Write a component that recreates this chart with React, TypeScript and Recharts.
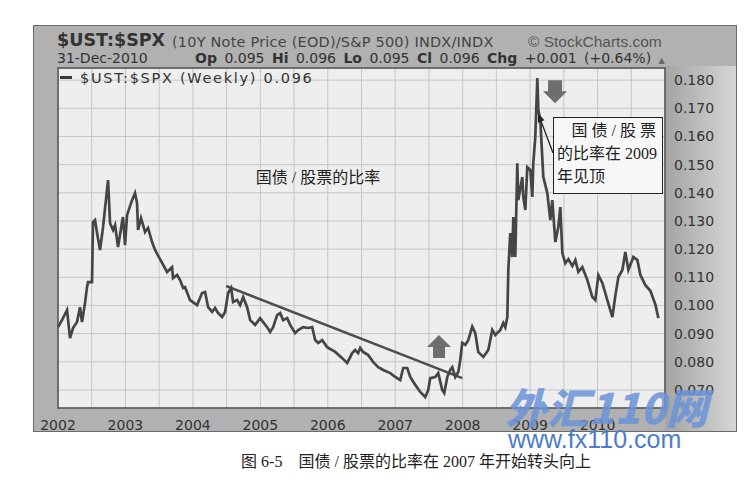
import React from 'react';
import { LineChart, Line, XAxis, YAxis, CartesianGrid, ReferenceLine, ReferenceDot, ReferenceArea } from 'recharts';

const years = [2002.000, 2002.059, 2002.134, 2002.178, 2002.223, 2002.282, 2002.326, 2002.356, 2002.401, 2002.430,
  2002.445, 2002.504, 2002.519, 2002.549, 2002.579, 2002.623, 2002.668, 2002.742, 2002.772, 2002.816,
  2002.846, 2002.890, 2002.950, 2002.964, 2002.994, 2003.024, 2003.098, 2003.142, 2003.172, 2003.187,
  2003.231, 2003.291, 2003.335, 2003.395, 2003.439, 2003.543, 2003.617, 2003.691, 2003.706, 2003.766,
  2003.810, 2003.855, 2003.884, 2003.958, 2004.062, 2004.136, 2004.181, 2004.226, 2004.285, 2004.329,
  2004.374, 2004.433, 2004.478, 2004.522, 2004.567, 2004.596, 2004.656, 2004.700, 2004.745, 2004.804,
  2004.849, 2004.923, 2004.997, 2005.042, 2005.101, 2005.145, 2005.190, 2005.249, 2005.294, 2005.338,
  2005.398, 2005.442, 2005.516, 2005.561, 2005.635, 2005.709, 2005.769, 2005.813, 2005.858, 2005.917,
  2005.991, 2006.110, 2006.214, 2006.288, 2006.362, 2006.407, 2006.451, 2006.481, 2006.525, 2006.599,
  2006.674, 2006.748, 2006.822, 2006.926, 2007.000, 2007.074, 2007.119, 2007.178, 2007.223, 2007.297,
  2007.371, 2007.445, 2007.490, 2007.519, 2007.593, 2007.638, 2007.697, 2007.727, 2007.772, 2007.816,
  2007.846, 2007.890, 2007.935, 2007.964, 2007.994, 2008.039, 2008.083, 2008.142, 2008.187, 2008.231,
  2008.306, 2008.380, 2008.439, 2008.484, 2008.558, 2008.602, 2008.632, 2008.662, 2008.677, 2008.706,
  2008.736, 2008.751, 2008.780, 2008.810, 2008.825, 2008.884, 2008.899, 2008.929, 2008.958, 2009.003,
  2009.033, 2009.047, 2009.077, 2009.107, 2009.122, 2009.151, 2009.196, 2009.255, 2009.300, 2009.329,
  2009.374, 2009.418, 2009.448, 2009.478, 2009.522, 2009.567, 2009.626, 2009.671, 2009.715, 2009.774,
  2009.849, 2009.923, 2009.967, 2010.012, 2010.071, 2010.145, 2010.220, 2010.264, 2010.309, 2010.368,
  2010.412, 2010.457, 2010.531, 2010.591, 2010.635, 2010.709, 2010.783, 2010.858, 2010.902];

const ratio = [0.0923, 0.0948, 0.0984, 0.0884, 0.0920, 0.0941, 0.0994, 0.0941, 0.1009, 0.1065,
  0.1083, 0.1083, 0.1296, 0.1303, 0.1257, 0.1197, 0.1278, 0.1445, 0.1292, 0.1268,
  0.1285, 0.1207, 0.1296, 0.1314, 0.1214, 0.1321, 0.1374, 0.1399, 0.1364, 0.1268,
  0.1310, 0.1261, 0.1275, 0.1225, 0.1197, 0.1151, 0.1119, 0.1136, 0.1097, 0.1108,
  0.1090, 0.1062, 0.1065, 0.1019, 0.1001, 0.1044, 0.1048, 0.0994, 0.0977, 0.0991,
  0.0973, 0.0959, 0.0977, 0.1044, 0.1062, 0.1012, 0.1019, 0.1001, 0.1030, 0.0994,
  0.0948, 0.0931, 0.0955, 0.0941, 0.0923, 0.0906, 0.0923, 0.0966, 0.0973, 0.0948,
  0.0955, 0.0931, 0.0902, 0.0913, 0.0923, 0.0920, 0.0923, 0.0877, 0.0867, 0.0877,
  0.0852, 0.0835, 0.0813, 0.0796, 0.0831, 0.0842, 0.0831, 0.0849, 0.0835, 0.0824,
  0.0799, 0.0781, 0.0771, 0.0760, 0.0746, 0.0735, 0.0778, 0.0778, 0.0746, 0.0718,
  0.0693, 0.0675, 0.0700, 0.0742, 0.0746, 0.0760, 0.0700, 0.0689, 0.0746, 0.0771,
  0.0781, 0.0746, 0.0764, 0.0806, 0.0867, 0.0860, 0.0877, 0.0925, 0.0902, 0.0835,
  0.0817, 0.0842, 0.0913, 0.0895, 0.0913, 0.0938, 0.0923, 0.0959, 0.1126, 0.1257,
  0.1172, 0.1314, 0.1172, 0.1505, 0.1374, 0.1456, 0.1385, 0.1339, 0.1491, 0.1481,
  0.1385, 0.1505, 0.1598, 0.1807, 0.1694, 0.1658, 0.1456, 0.1399, 0.1303, 0.1374,
  0.1225, 0.1278, 0.1349, 0.1186, 0.1150, 0.1164, 0.1140, 0.1161, 0.1119, 0.1136,
  0.1090, 0.1030, 0.1019, 0.1108, 0.1080, 0.1019, 0.0959, 0.1035, 0.1101, 0.1126,
  0.1190, 0.1126, 0.1172, 0.1161, 0.1108, 0.1072, 0.1052, 0.1003, 0.0955];

const yTicks = [0.07, 0.08, 0.09, 0.10, 0.11, 0.12, 0.13, 0.14, 0.15, 0.16, 0.17, 0.18];
const xTicks = [2002, 2002.5, 2003, 2003.5, 2004, 2004.5, 2005, 2005.5, 2006, 2006.5, 2007, 2007.5,
  2008, 2008.5, 2009, 2009.5, 2010, 2010.5, 2011];
const yearLabels = ['2002', '2003', '2004', '2005', '2006', '2007', '2008', '2009', '2010'];
const yDomain = [0.0636, 0.1843];
const xDomain = [2002, 2011];

const trendStart = { x: 2004.493, y: 0.1069 };
const trendEnd = { x: 2007.994, y: 0.0742 };
const upArrowAt = { x: 2007.649, y: 0.0895 };
const downArrowAt = { x: 2009.370, y: 0.1718 };
const calloutFrom = { x: 2009.340, y: 0.1541 };
const calloutTo = { x: 2009.117, y: 0.1683 };

const data = years.map((t, i) => ({ t, v: ratio[i] }));

const T = ({ x, b, size, font = 'DejaVu Sans', weight = 400, color = '#333', anchor = 'start', style = {}, children }: any) => (
  <div style={{
    position: 'absolute', left: x, top: b - 0.85 * size, fontSize: size, lineHeight: `${size}px`,
    fontFamily: font, fontWeight: weight, color, whiteSpace: 'nowrap',
    transform: anchor === 'middle' ? 'translateX(-50%)' : anchor === 'end' ? 'translateX(-100%)' : undefined,
    ...style,
  }}>{children}</div>
);

const upArrow = (p: any) => {
  const { cx, cy } = p;
  const pts = [[cx, cy], [cx + 12, cy + 12], [cx + 6, cy + 12], [cx + 6, cy + 23], [cx - 6, cy + 23], [cx - 6, cy + 12], [cx - 12, cy + 12]];
  return <polygon points={pts.map(q => q.join(',')).join(' ')} fill="#6e6e6e" />;
};
const downArrow = (p: any) => {
  const { cx, cy } = p;
  const pts = [[cx, cy], [cx + 12, cy - 12], [cx + 7, cy - 12], [cx + 7, cy - 23], [cx - 7, cy - 23], [cx - 7, cy - 12], [cx - 12, cy - 12]];
  return <polygon points={pts.map(q => q.join(',')).join(' ')} fill="#6e6e6e" />;
};
const calloutShape = (p: any) => {
  const { x1, y1, x2, y2 } = p;
  const dx = x2 - x1, dy = y2 - y1;
  const len = Math.sqrt(dx * dx + dy * dy) || 1;
  const ux = dx / len, uy = dy / len;
  const hl = 9, hw = 3.5;
  const bx = x2 - ux * hl, by = y2 - uy * hl;
  const head = [[x2, y2], [bx - uy * hw, by + ux * hw], [bx + uy * hw, by - ux * hw]];
  return (
    <g>
      <line x1={x1} y1={y1} x2={bx} y2={by} stroke="#222" strokeWidth={1.3} />
      <polygon points={head.map(q => q.join(',')).join(' ')} fill="#222" />
    </g>
  );
};

const cjkSerif = '"Liberation Serif", "Noto Sans CJK SC", serif';

export default function App() {
  return (
    <div style={{ position: 'absolute', left: 0, top: 0, width: 750, height: 496, background: '#ffffff', overflow: 'hidden' }}>
      {/* frame */}
      <div style={{ position: 'absolute', left: 33, top: 25, width: 702, height: 405, background: '#b1b1b1', border: '1px solid #6a6a6a' }} />
      <div style={{ position: 'absolute', left: 665, top: 66, width: 71, height: 365, background: 'linear-gradient(to right, #a4a4a4, #c2c2c2 60%, #d6d6d6)' }} />

      <div style={{ position: 'absolute', left: 0, top: 0 }}>
        <LineChart width={750} height={496} data={data} margin={{ top: 68, right: 25, bottom: 63, left: 58 }}>
          <CartesianGrid stroke="#c6c6c6" fill="#eeeeee" strokeWidth={1} />
          <XAxis dataKey="t" type="number" domain={xDomain} ticks={xTicks} interval={0}
            tickFormatter={(v: number) => (Number.isInteger(v) && yearLabels.includes(String(v)) ? String(v) : '')}
            axisLine={false} tickLine={false} tickMargin={6} height={25}
            tick={{ fill: '#333', fontSize: 14, fontFamily: 'DejaVu Sans' }} />
          <YAxis orientation="right" type="number" domain={yDomain} ticks={yTicks} interval={0} width={60}
            tickFormatter={(v: number) => v.toFixed(3)} axisLine={false} tickLine={false} tickMargin={3}
            tick={{ fill: '#333', fontSize: 14, fontFamily: 'DejaVu Sans', textAnchor: 'start' }} />
          <ReferenceArea x1={xDomain[0]} x2={xDomain[1]} y1={yDomain[0]} y2={yDomain[1]} fill="none" fillOpacity={0} stroke="#505050" strokeWidth={1.5} />
          <ReferenceLine segment={[trendStart, trendEnd]} stroke="#4e4e4e" strokeWidth={2.6} />
          <Line dataKey="v" type="linear" stroke="#454545" strokeWidth={2.7} dot={false} isAnimationActive={false} />
          <ReferenceDot x={upArrowAt.x} y={upArrowAt.y} r={1} shape={upArrow} />
          <ReferenceDot x={downArrowAt.x} y={downArrowAt.y} r={1} shape={downArrow} />
          <ReferenceLine segment={[calloutFrom, calloutTo]} shape={calloutShape} />
        </LineChart>
      </div>

      {/* header */}
      <T x={57} b={47} size={17.5} weight={700} color="#333">$UST:$SPX</T>
      <T x={172} b={47} size={14.5} color="#444" style={{ letterSpacing: 0.2 }}>(10Y Note Price (EOD)/S&amp;P 500) INDX/INDX</T>
      <T x={528} b={47} size={15.5} font='"Liberation Sans", Arial' color="#555">© StockCharts.com</T>
      <T x={57} b={63} size={14} color="#333">31-Dec-2010</T>
      <T x={195} b={63} size={14} color="#333" style={{ wordSpacing: 3 }}>
        <b>Op</b> 0.095 <b>Hi</b> 0.096 <b>Lo</b> 0.095 <b>Cl</b> 0.096 <b>Chg</b> +0.001 (+0.64%) <span style={{ fontSize: 8, color: '#666' }}>▲</span>
      </T>

      {/* legend */}
      <div style={{ position: 'absolute', left: 60, top: 76, width: 12, height: 3, background: '#3a3a3a' }} />
      <T x={80} b={83} size={14.5} color="#333" style={{ letterSpacing: 1.7 }}>$UST:$SPX (Weekly) 0.096</T>

      {/* annotations */}
      <T x={318} b={184} size={16} font={cjkSerif} color="#222" anchor="middle">国债 / 股票的比率</T>
      <div style={{ position: 'absolute', left: 553, top: 117, width: 108, height: 75, background: '#f7f7f7', border: '1.5px solid #222' }} />
      <T x={660} b={137} size={16} font={cjkSerif} color="#222" anchor="end" style={{ letterSpacing: 4 }}>国债/股票</T>
      <T x={557} b={160} size={16} font={cjkSerif} color="#222">的比率在 2009</T>
      <T x={557} b={183} size={16} font={cjkSerif} color="#222">年见顶</T>

      {/* watermark */}
      <T x={505} b={421} size={42} font='"Noto Sans CJK SC", sans-serif' weight={900} color="#6b93d8" style={{ fontStyle: 'italic', opacity: 0.85 }}>外汇110网</T>
      <T x={508} b={448} size={25} font='"Liberation Sans", Arial' color="#4c7cc8">www.fx110.com</T>

      {/* caption */}
      <T x={416} b={468} size={16} font={cjkSerif} color="#222" anchor="middle">图 6-5　国债 / 股票的比率在 2007 年开始转头向上</T>
    </div>
  );
}
